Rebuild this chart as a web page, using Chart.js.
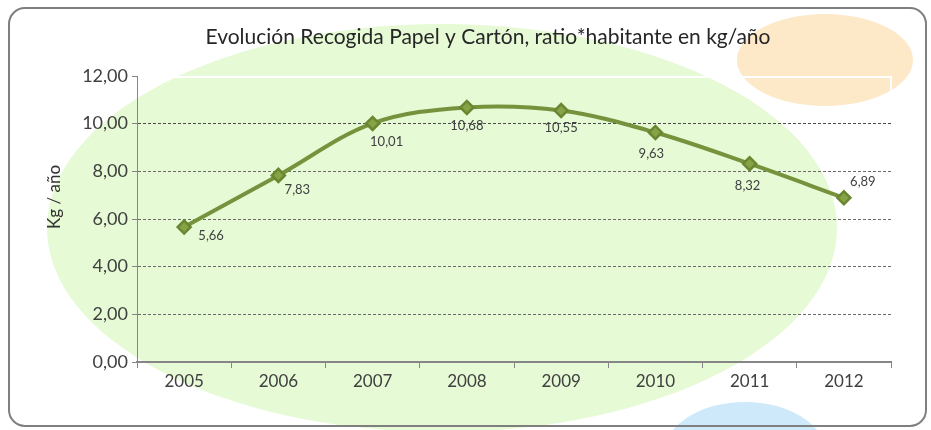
<!DOCTYPE html>
<html>
<head>
<meta charset="utf-8">
<script src="https://cdn.jsdelivr.net/npm/chart.js@4.4.1/dist/chart.umd.min.js"></script>
<style>
  html, body { margin: 0; padding: 0; background: #fff; }
  #wrap { width: 931px; height: 430px; }
</style>
</head>
<body>
<div id="wrap"><canvas id="ratioChart" width="931" height="430"></canvas></div>
<script>
// datos
const years = ["2005", "2006", "2007", "2008", "2009", "2010", "2011", "2012"];
const kgPerHab = [5.66, 7.83, 10.01, 10.68, 10.55, 9.63, 8.32, 6.89];
const yTicks = [0, 2, 4, 6, 8, 10, 12];

const chartTitle = "Evolución Recogida Papel y Cartón, ratio*habitante en kg/año";
const yTitle = "Kg / año";

// desplazamiento de cada etiqueta respecto a su punto
const labelOffsets = [[27, 9], [19, 14], [14, 18], [0, 18], [0, 17], [-4, 21], [-2, 22], [19, -16]];

const fmt = v => v.toFixed(2).replace(".", ",");
const FONT = "Lato, 'Open Sans', sans-serif";

// fondo: marco redondeado y manchas de color
const backdrop = {
  id: "backdrop",
  beforeDraw(chart) {
    const c = chart.ctx;
    c.save();
    c.fillStyle = "#fff";
    c.fillRect(0, 0, chart.width, chart.height);
    c.fillStyle = "#e6fad5";
    c.beginPath();
    c.ellipse(442, 228, 395, 204, 0, 0, Math.PI * 2);
    c.fill();
    c.fillStyle = "#fde8c8";
    c.beginPath();
    c.ellipse(825, 60, 88, 46, 0, 0, Math.PI * 2);
    c.fill();
    c.fillStyle = "#cde9fa";
    c.beginPath();
    c.ellipse(745, 452, 80, 50, 0, 0, Math.PI * 2);
    c.fill();
    // borde
    c.strokeStyle = "#7f7f7f";
    c.lineWidth = 2;
    c.beginPath();
    c.roundRect(9, 8, 917, 418, 16);
    c.stroke();
    // borde blanco del area de trazado
    const a = chart.chartArea;
    c.strokeStyle = "#fff";
    c.lineWidth = 2;
    c.beginPath();
    c.moveTo(110, a.top + 1);
    c.lineTo(a.right, a.top + 1);
    c.lineTo(a.right, a.top + 30);
    c.stroke();
    // titulo
    c.fillStyle = "#262626";
    c.font = "21px " + FONT;
    c.textAlign = "center";
    c.textBaseline = "middle";
    c.fillText(chartTitle, 488, 37);
    // titulo del eje vertical
    c.translate(55, 197);
    c.rotate(-Math.PI / 2);
    c.fillStyle = "#333";
    c.font = "17px " + FONT;
    c.fillText(yTitle, 0, 0);
    c.restore();
  },
  afterDatasetsDraw(chart) {
    const c = chart.ctx;
    const pts = chart.getDatasetMeta(0).data;
    c.save();
    c.fillStyle = "#404040";
    c.font = "13px " + FONT;
    c.textAlign = "center";
    c.textBaseline = "middle";
    pts.forEach((p, i) => {
      const o = labelOffsets[i];
      c.fillText(fmt(kgPerHab[i]), p.x + o[0], p.y + o[1]);
    });
    c.restore();
  }
};

new Chart(document.getElementById("ratioChart"), {
  type: "line",
  data: {
    labels: years,
    datasets: [{
      data: kgPerHab,
      borderColor: "#76923c",
      borderWidth: 4,
      tension: 0.35,
      pointStyle: "rectRot",
      pointRadius: 6.5,
      pointBackgroundColor: "#86a445",
      pointBorderColor: "#6a8631",
      pointBorderWidth: 2.5,
      fill: false
    }]
  },
  options: {
    responsive: false,
    animation: false,
    layout: { padding: { top: 76, left: 42, right: 40, bottom: 38 } },
    plugins: { legend: { display: false }, tooltip: { enabled: false } },
    scales: {
      x: {
        offset: true,
        afterFit: s => { s.height = 30; },
        grid: {
          offset: true,
          drawOnChartArea: false,
          drawTicks: true,
          tickLength: 6,
          color: "#868686"
        },
        border: { color: "#868686", width: 2 },
        ticks: { color: "#404040", font: { family: FONT, size: 17 }, padding: 3 }
      },
      y: {
        min: 0,
        max: 12,
        afterFit: s => { s.width = 137 - 42; },
        afterBuildTicks: s => { s.ticks = yTicks.map(v => ({ value: v })); },
        grid: {
          color: ctx => (ctx.tick && (ctx.tick.value === 0 || ctx.tick.value === 12)) ? "rgba(0,0,0,0)" : (ctx.tick && ctx.tick.value === 10 ? "#4a4a4a" : "#6a6a6a"),
          tickColor: "#868686",
          tickLength: 5,
          lineWidth: 1
        },
        border: { color: "#868686", width: 1, dash: [3, 2] },
        ticks: {
          color: "#404040",
          font: { family: FONT, size: 18 },
          padding: 4,
          callback: v => fmt(v)
        }
      }
    }
  },
  plugins: [backdrop]
});
</script>
</body>
</html>
